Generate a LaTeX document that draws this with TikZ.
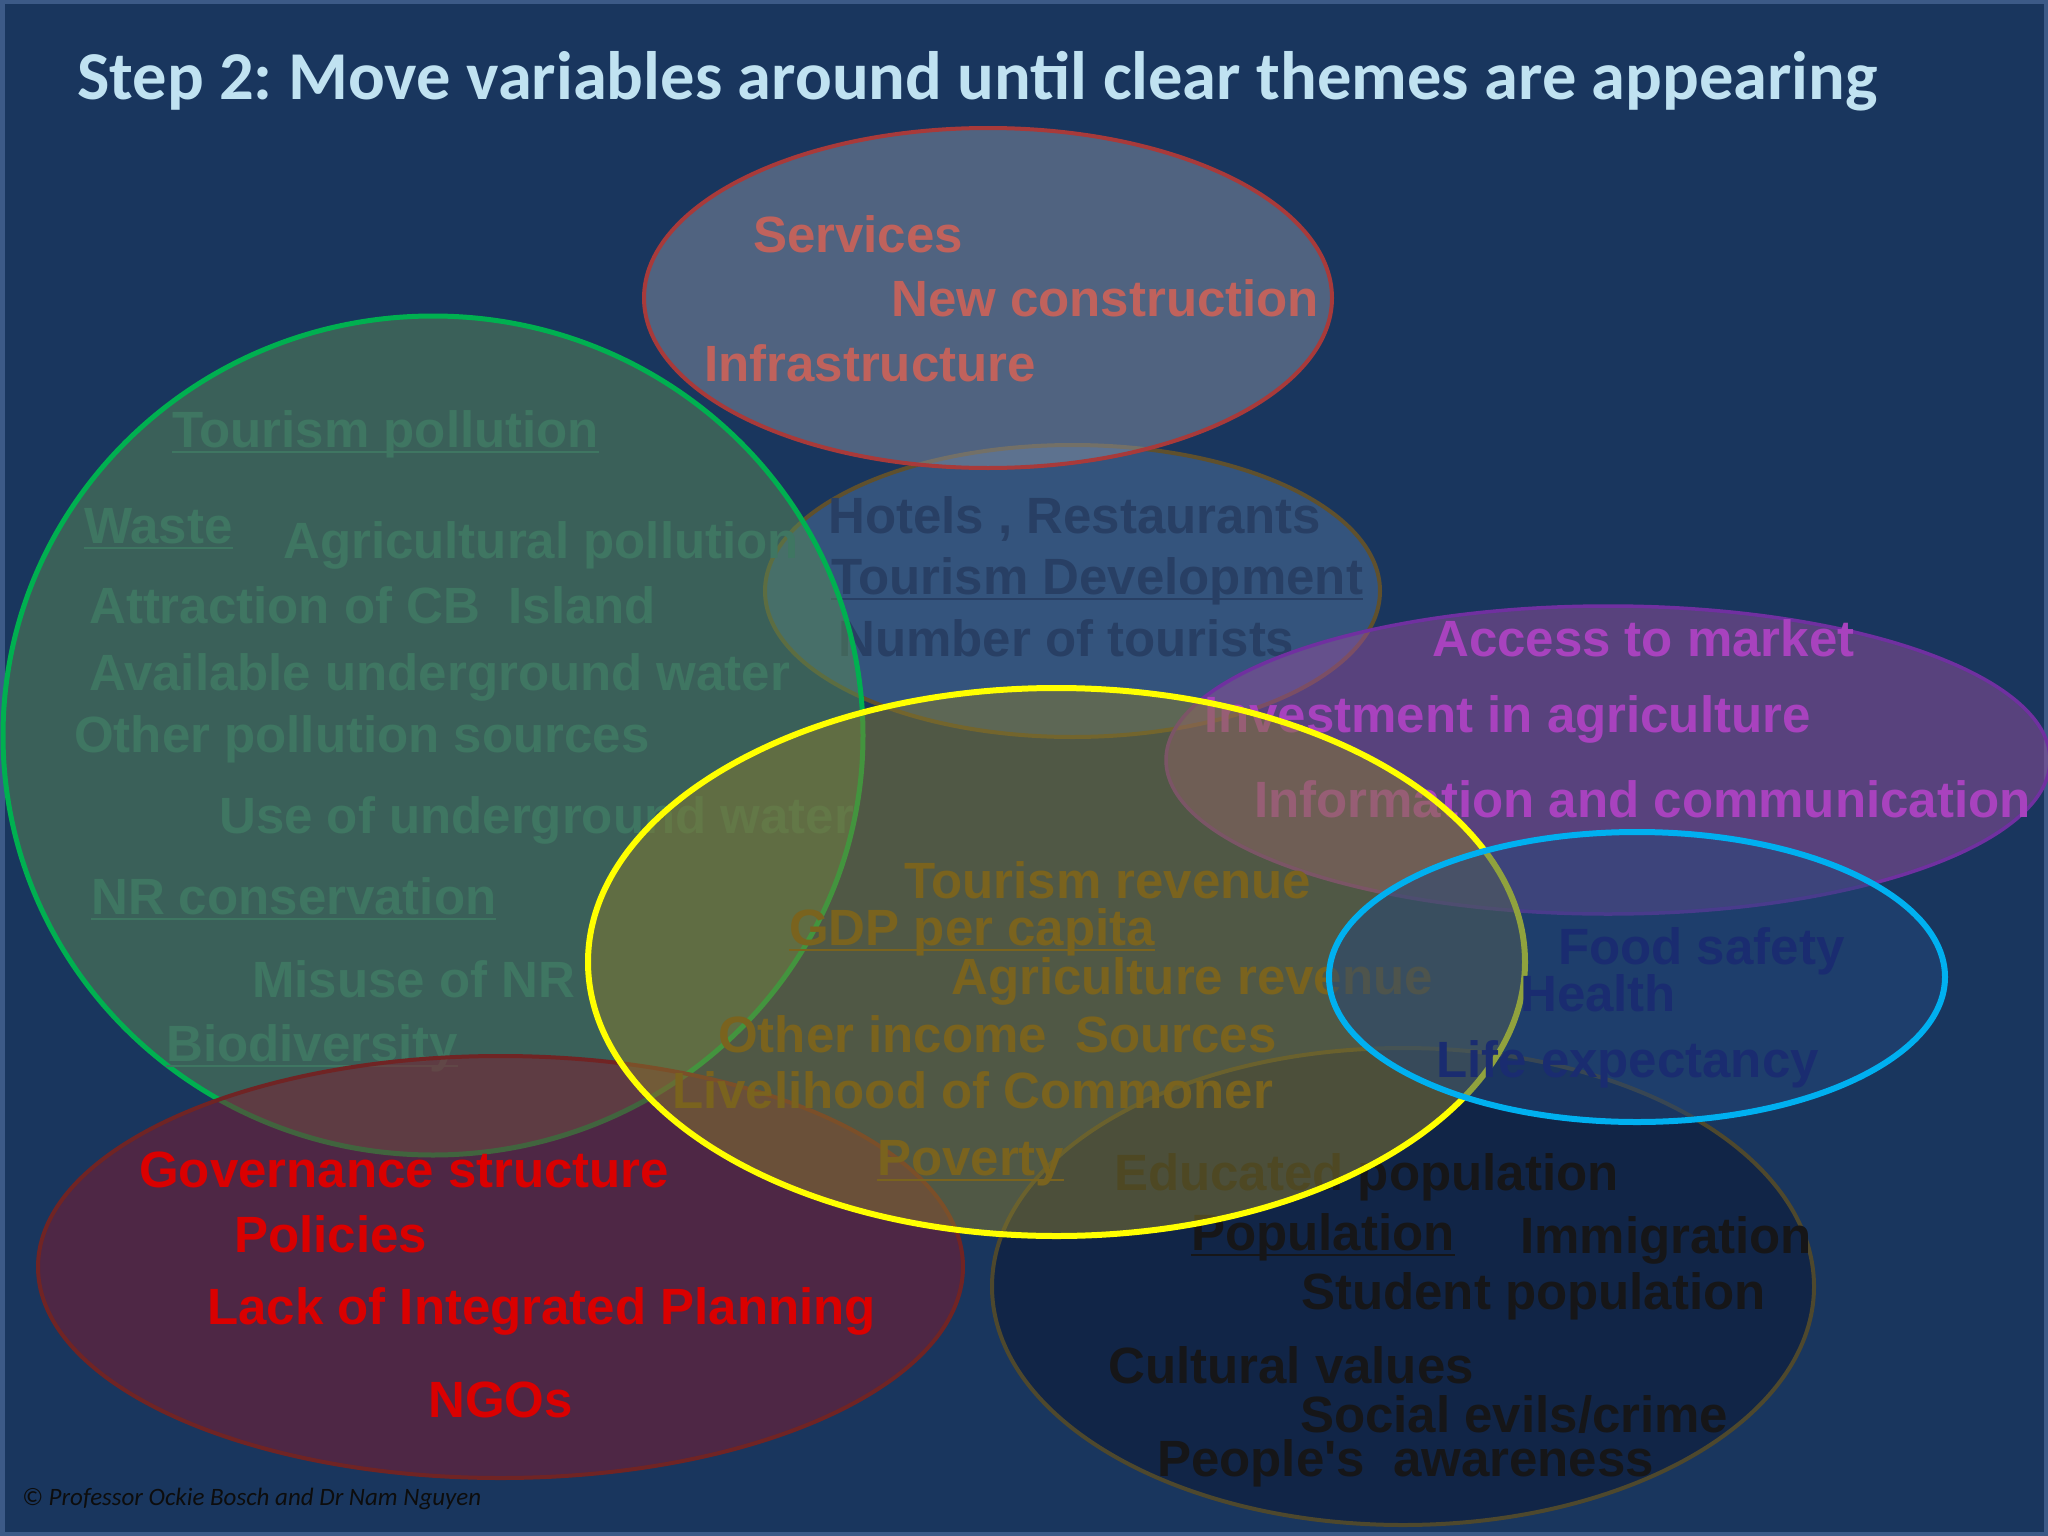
\documentclass[tikz,border=0pt]{standalone}
\usepackage{fontspec}
\setmainfont{Liberation Sans}
\newfontfamily\titlefont{Carlito}
\usepackage{xcolor}

% slide colours
\definecolor{bgnavy}{RGB}{25,54,94}
\definecolor{frameblue}{RGB}{60,90,135}
\definecolor{titleblue}{RGB}{192,226,241}
% ellipse fills (used at half opacity), edges and texts
\definecolor{redfill}{RGB}{135,144,162}
\definecolor{rededge}{RGB}{168,58,58}
\definecolor{redtxt}{RGB}{192,98,92}
\definecolor{brownfill}{RGB}{79,114,156}
\definecolor{brownedge}{RGB}{95,80,45}
\definecolor{browntxt}{RGB}{40,63,100}
\definecolor{greenfill}{RGB}{91,138,86}
\definecolor{greenedge}{RGB}{0,176,80}
\definecolor{greentxt}{RGB}{63,118,98}
\definecolor{maroonfill}{RGB}{131,26,46}
\definecolor{maroonedge}{RGB}{112,36,36}
\definecolor{maroontxt}{RGB}{218,0,0}
\definecolor{purplefill}{RGB}{151,78,156}
\definecolor{purpleedge}{RGB}{112,48,160}
\definecolor{purpletxt}{RGB}{168,66,190}
\definecolor{popfill}{RGB}{11,22,50}
\definecolor{popedge}{RGB}{78,72,45}
\definecolor{poptxt}{RGB}{22,22,24}
\definecolor{yellowfill}{RGB}{135,122,46}
\definecolor{yellowedge}{RGB}{255,255,0}
\definecolor{yellowtxt}{RGB}{122,99,30}
\definecolor{cyanfill}{RGB}{35,70,122}
\definecolor{cyanedge}{RGB}{0,176,240}
\definecolor{cyantxt}{RGB}{26,44,112}

% underlined variable
\newsavebox{\ulbox}
\newcommand{\ulin}[1]{\sbox{\ulbox}{#1}\rlap{\rule[-6pt]{\wd\ulbox}{2.5pt}}\usebox{\ulbox}}

\frenchspacing

\begin{document}
\begin{tikzpicture}[x=1pt, y=-1pt,
    var/.style={font=\fontsize{51}{60}\selectfont\bfseries, inner sep=0pt, anchor=base west},
    theme/.style={fill opacity=0.5, line width=4pt}]
  \useasboundingbox (0,0) rectangle (2048,1536);

  % Slide background with its thin frame
  \fill[frameblue] (0,0) rectangle (2048,1536);
  \fill[bgnavy] (5,4) rectangle (2044,1532);

  % Title
  \node[font=\titlefont\fontsize{68.5}{74}\selectfont\bfseries, text=titleblue, inner sep=0pt, anchor=base west]
    (title) at (77,100) {Step 2: Move variables around until clear themes are appearing};

  % Hotels theme (brown)
  \filldraw[theme, fill=brownfill, draw=brownedge] (1072.5,591) ellipse [x radius=307.5, y radius=146];
  \node[var, text=browntxt] (hotels) at (828,533) {Hotels , Restaurants};
  \node[var, text=browntxt] (tdev) at (831,594) {\ulin{Tourism Development}};
  \node[var, text=browntxt] (ntour) at (838,656) {Number of tourists};

  % Construction theme (red)
  \filldraw[theme, fill=redfill, draw=rededge] (988,298) ellipse [x radius=344, y radius=170];
  \node[var, text=redtxt] (svc) at (753,252) {Services};
  \node[var, text=redtxt] (newc) at (891,316) {New construction};
  \node[var, text=redtxt] (infra) at (704,381) {Infrastructure};

  % Environment theme (green)
  \filldraw[theme, fill=greenfill, draw=greenedge, line width=5pt] (433,735.5) ellipse [x radius=430, y radius=419.5];
  \node[var, text=greentxt] (tpol) at (172,447) {\ulin{Tourism pollution}};
  \node[var, text=greentxt] (waste) at (84,543) {\ulin{Waste}};
  \node[var, text=greentxt] (agpol) at (283,558) {Agricultural pollution};
  \node[var, text=greentxt] (attr) at (89,623) {Attraction of CB\ \ Island};
  \node[var, text=greentxt] (avw) at (89,690) {Available underground water};
  \node[var, text=greentxt] (opol) at (74,752) {Other pollution sources};
  \node[var, text=greentxt] (usew) at (219,833) {Use of underground water};
  \node[var, text=greentxt] (nrc) at (91,914) {\ulin{NR conservation}};
  \node[var, text=greentxt] (misuse) at (252,997) {Misuse of NR};
  \node[var, text=greentxt] (biod) at (166,1061) {\ulin{Biodiversity}};

  % Governance theme (maroon)
  \filldraw[theme, fill=maroonfill, draw=maroonedge] (500.5,1267) ellipse [x radius=462.5, y radius=211];
  \node[var, text=maroontxt] (gov) at (139,1187) {Governance structure};
  \node[var, text=maroontxt] (pol) at (234,1252) {Policies};
  \node[var, text=maroontxt] (lack) at (207,1324) {Lack of Integrated Planning};
  \node[var, text=maroontxt] (ngos) at (428,1417) {NGOs};

  % Agriculture theme (purple)
  \filldraw[theme, fill=purplefill, draw=purpleedge, line width=3.5pt] (1608,760) ellipse [x radius=442, y radius=154];
  \node[var, text=purpletxt] (access) at (1432,656) {Access to market};
  \node[var, text=purpletxt] (invest) at (1204,732) {Investment in agriculture};
  \node[var, text=purpletxt] (info) at (1254,817) {Information and communication};

  % Population theme (dark)
  \filldraw[theme, fill=popfill, draw=popedge] (1403,1286.5) ellipse [x radius=411, y radius=238.5];
  \node[var, text=poptxt] (educ) at (1114,1190) {Educated population};
  \node[var, text=poptxt] (popul) at (1191,1250) {\ulin{Population}};
  \node[var, text=poptxt] (immig) at (1520,1253) {Immigration};
  \node[var, text=poptxt] (student) at (1301,1309) {Student population};
  \node[var, text=poptxt] (cultural) at (1108,1383) {Cultural values};
  \node[var, text=poptxt] (social) at (1300,1432) {Social evils/crime};
  \node[var, text=poptxt] (people) at (1157,1476) {People\textquotesingle s\ \ awareness};

  % Economy theme (yellow)
  \filldraw[theme, fill=yellowfill, draw=yellowedge, line width=6pt] (1056.5,962) ellipse [x radius=468.5, y radius=274];
  \node[var, text=yellowtxt] (tourrev) at (904,898) {Tourism revenue};
  \node[var, text=yellowtxt] (gdp) at (789,945) {\ulin{GDP per capita}};
  \node[var, text=yellowtxt] (agrev) at (951,994) {Agriculture revenue};
  \node[var, text=yellowtxt] (income) at (718,1052) {Other income\ \ Sources};
  \node[var, text=yellowtxt] (liveli) at (672,1108) {Livelihood of Commoner};
  \node[var, text=yellowtxt] (poverty) at (877,1175) {\ulin{Poverty}};

  % Health theme (cyan)
  \filldraw[theme, fill=cyanfill, draw=cyanedge, line width=6pt] (1637,977) ellipse [x radius=308, y radius=145];
  \node[var, text=cyantxt] (food) at (1558,964) {Food safety};
  \node[var, text=cyantxt] (health) at (1520,1011) {Health};
  \node[var, text=cyantxt] (life) at (1436,1077) {Life expectancy};

  % Credit line
  \node[font=\titlefont\fontsize{25}{29}\selectfont\itshape, text=black!95, inner sep=0pt, anchor=base west]
    (credit) at (22,1505) {\textcopyright{} Professor Ockie Bosch and Dr Nam Nguyen};
\end{tikzpicture}
\end{document}
